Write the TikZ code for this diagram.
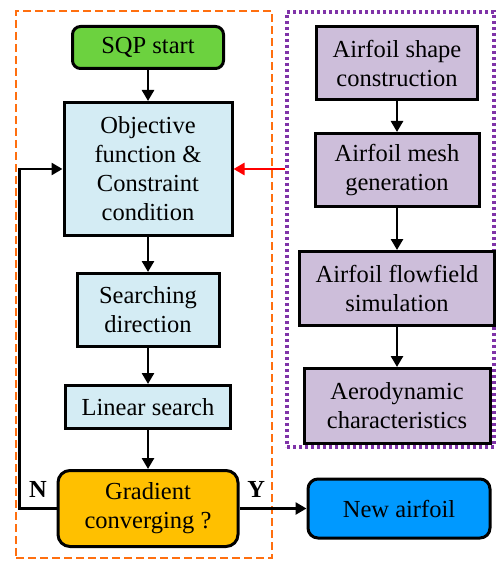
\documentclass[tikz,border=0pt]{standalone}
\usepackage{fontspec}
\setmainfont{Liberation Serif}
\usetikzlibrary{positioning,arrows.meta}

\definecolor{sqpgreen}{HTML}{6CD23F}
\definecolor{boxblue}{HTML}{D4ECF4}
\definecolor{boxpurple}{HTML}{CDBEDA}
\definecolor{gradorange}{HTML}{FFC000}
\definecolor{newblue}{HTML}{0099FF}
\definecolor{frameorange}{HTML}{FF6F0F}
\definecolor{framepurple}{HTML}{7F33A8}

\begin{document}
\begin{tikzpicture}[x=1pt, y=-1pt, font=\fontsize{24.5}{29}\selectfont,
    main/.style = {draw, line width=3pt, align=center, inner sep=0pt},
    sqpstyle/.style = {main, fill=boxblue},
    cfdstyle/.style = {main, fill=boxpurple},
    arr/.style = {line width=2.6pt, -{Triangle[length=11pt,width=12pt]}},
    sqpframe/.style = {draw=frameorange, line width=2.6pt, dash pattern=on 8pt off 4pt, inner sep=0pt},
    cfdframe/.style = {draw=framepurple, line width=3.2pt, dash pattern=on 3pt off 3pt, inner sep=0pt}]
    \useasboundingbox (0,0) rectangle (496,561);

    % frames
    \node[sqpframe, minimum width=256pt, minimum height=547pt] (sqpbox) at (144,284.5) {};
    \node[cfdframe, minimum width=207pt, minimum height=435pt] (cfdbox) at (390.5,229.5) {};

    % optimisation loop
    \node[main, fill=sqpgreen, rounded corners=8pt, minimum width=151pt, minimum height=42pt] (sqp) at (148,47.5) {SQP start};
    \node[sqpstyle, minimum width=168pt, minimum height=133pt] (obj) [below=31pt of sqp] {Objective\\function \&\\Constraint\\condition};
    \node[sqpstyle, minimum width=142pt, minimum height=73pt] (search) [below=35pt of obj] {Searching\\direction};
    \node[sqpstyle, minimum width=165pt, minimum height=43pt] (linear) [below=36pt of search] {Linear search};
    \node[main, fill=gradorange, rounded corners=12pt, minimum width=180pt, minimum height=76pt] (grad) [below=39pt of linear] {Gradient\\converging ?};
    \node[main, fill=newblue, rounded corners=10pt, minimum width=182pt, minimum height=59pt] (new) [right=67pt of grad] {New airfoil};

    % airfoil evaluation
    \node[cfdstyle, minimum width=161pt, minimum height=73pt] (shape) at (397,63) {Airfoil shape\\construction};
    \node[cfdstyle, minimum width=164pt, minimum height=73pt] (mesh) [below=31pt of shape] {Airfoil mesh\\generation};
    \node[cfdstyle, minimum width=195pt, minimum height=74pt] (flow) [below=42pt of mesh] {Airfoil flowfield\\simulation};
    \node[cfdstyle, minimum width=186pt, minimum height=75pt] (aero) [below=40pt of flow] {Aerodynamic\\characteristics};

    \draw[arr] (sqp) -- (obj);
    \draw[arr] (obj) -- (search);
    \draw[arr] (search) -- (linear);
    \draw[arr] (linear) -- (grad);
    \draw[arr] (grad.east) -- node[pos=0.25, above=6pt] {\textbf{Y}} (new.west);
    \draw[arr] (grad.west) -- node[midway, above=6pt] {\textbf{N}} ++(-37,0) |- (obj.west);

    \draw[arr] (shape) -- (mesh);
    \draw[arr] (mesh) -- (flow);
    \draw[arr] (flow) -- (aero);

    \draw[arr, red] (cfdbox.west |- obj.east) -- (obj.east);
\end{tikzpicture}
\end{document}
